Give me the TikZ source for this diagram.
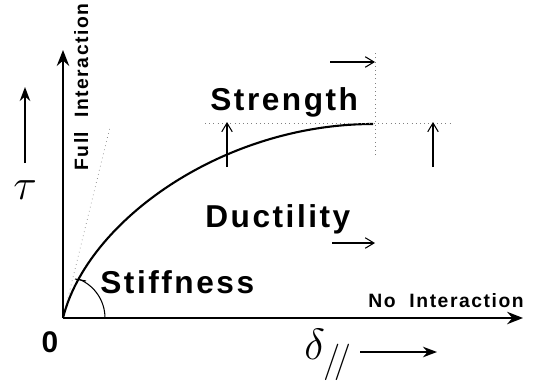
\documentclass[tikz,border=0pt]{standalone}
\usepackage{fontspec}
\setmainfont{Liberation Sans}
\usetikzlibrary{arrows.meta, positioning, calc}

\begin{document}
\begin{tikzpicture}[
		x=0.02cm, y=0.02cm,
		>=Stealth,
		% Estilos
		axis/.style={draw, line width=1.4pt, -{Stealth[length=9pt, width=7pt]}},
		curve/.style={draw, line width=1.2pt},
		guide/.style={draw, gray, dotted, line width=0.4pt},
		thinarrow/.style={draw, line width=0.6pt, -{Straight Barb[length=5pt, width=6pt]}},
		boldarrow/.style={draw, line width=1pt, -{Stealth[length=8pt, width=6pt]}},
		biglabel/.style={font=\fontsize{18}{20}\selectfont\bfseries\addfontfeature{LetterSpace=8}, inner sep=0pt},
		smalllabel/.style={font=\fontsize{11}{12}\selectfont\bfseries\addfontfeature{LetterSpace=8}, inner sep=0pt}
		]
		\useasboundingbox (0,0) rectangle (533,383);
		
		% --- PUNTOS ---
		\coordinate (O) at (63,65);
		\coordinate (xend) at (523,65);
		\coordinate (yend) at (63,333);
		\coordinate (peak) at (373,259);
		\coordinate (tangent) at (110,256);
		
		% --- EJES ---
		\draw [axis] (O) -- (xend);
		\draw [axis] (O) -- (yend);
		
		% --- CURVA ---
		\draw [guide] (O) -- (tangent);
		\draw [curve] (O) .. controls (87,162) and (223,259) .. (peak);
		\draw [line width=0.6pt] ($(O)+(42,0)$) arc [start angle=0, end angle=67, radius=42];
		\coordinate (tickA) at (75,104);
		\coordinate (tickB) at (86,102);
		\draw [line width=0.6pt] (tickA) -- (tickB);
		
		% --- LINEAS AUXILIARES ---
		\coordinate (hA) at (205,260);
		\coordinate (hB) at (453,260);
		\coordinate (vA) at (375,228);
		\coordinate (vB) at (375,330);
		\draw [guide] (hA) -- (hB);
		\draw [guide] (vA) -- (vB);
		
		% --- FLECHAS ---
		\coordinate (s1) at (330,321);
		\coordinate (s2) at (375,321);
		\draw [thinarrow] (s1) -- (s2);
		\coordinate (u1) at (227,216);
		\coordinate (u2) at (227,261);
		\draw [thinarrow] (u1) -- (u2);
		\coordinate (w1) at (433,216);
		\coordinate (w2) at (433,261);
		\draw [thinarrow] (w1) -- (w2);
		\coordinate (d1) at (332,140);
		\coordinate (d2) at (375,140);
		\draw [thinarrow] (d1) -- (d2);
		
		% --- ETIQUETAS ---
		\node [biglabel, anchor=base west] (strength) at (210,273) {Strength};
		\node [biglabel, anchor=base west] (ductility) at (205,156) {Ductility};
		\node [biglabel, anchor=base west] (stiffness) at (100,90) {Stiffness};
		\node [smalllabel, anchor=base west] (noint) at (368,76) {No\ \ Interaction};
		\node [smalllabel, anchor=base west, rotate=90] (fullint) at (88,212) {Full\ \ Interaction};
		\node [font=\fontsize{17}{18}\selectfont\bfseries] (zero) at (50,41) {0};
		\node [font=\Huge] (tau) at (25,193) {$\tau$};
		\node [font=\Huge] (delta) at (328,28) {$\delta_{/\!/}$};
		
		% --- FLECHAS DE VARIABLES ---
		\coordinate (t1) at (25,220);
		\coordinate (t2) at (25,296);
		\draw [boldarrow] (t1) -- (t2);
		\coordinate (e1) at (360,31);
		\coordinate (e2) at (437,31);
		\draw [boldarrow] (e1) -- (e2);
		
	\end{tikzpicture}
\end{document}
